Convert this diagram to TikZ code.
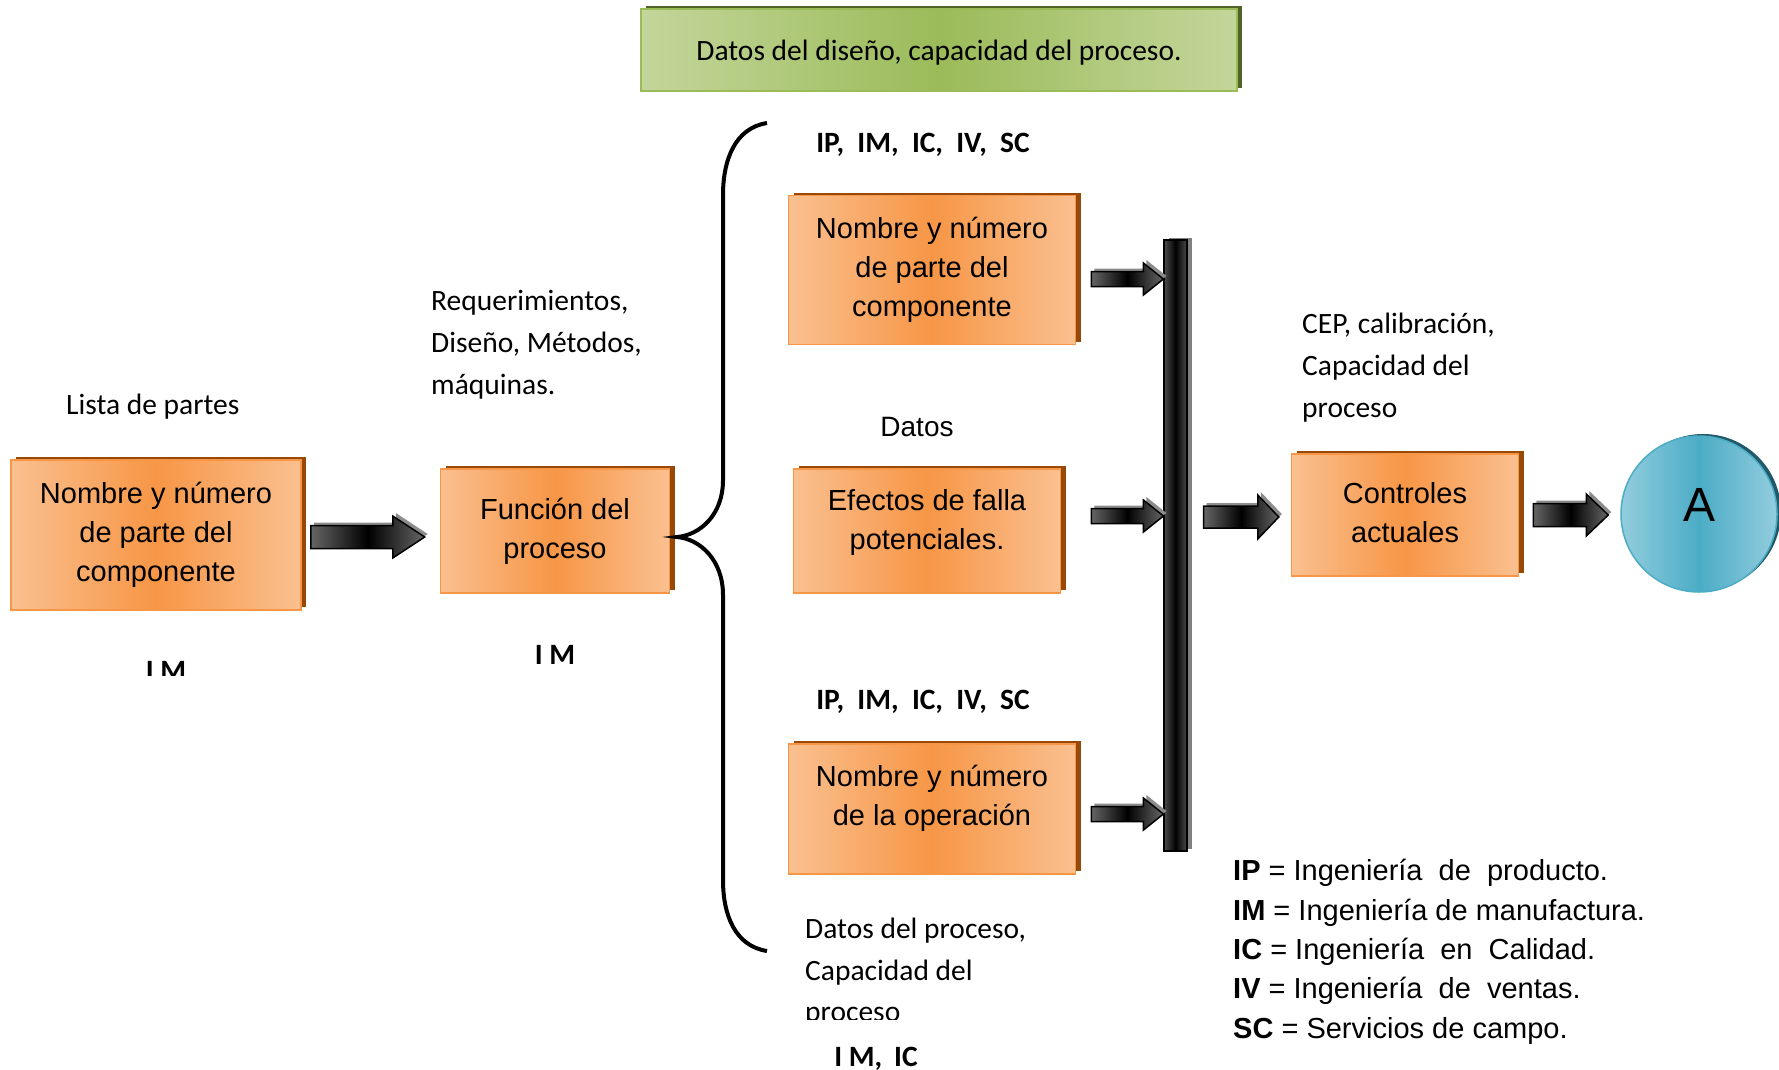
\documentclass[tikz,border=0pt]{standalone}
\usepackage{fontspec}
\setmainfont{Liberation Sans}
\newfontfamily\carlito{Carlito}
\usepackage{tikz}
\usetikzlibrary{shadows,calc}
\usepackage{xcolor}
\definecolor{naranja}{HTML}{F79646}
\definecolor{naranjaclaro}{HTML}{FAC090}
\definecolor{naranjasombra}{HTML}{984807}
\definecolor{verde}{HTML}{9BBB59}
\definecolor{verdeclaro}{HTML}{C3D69B}
\definecolor{verdesombra}{HTML}{4F6228}
\definecolor{azul}{HTML}{4BACC6}
\definecolor{azulclaro}{HTML}{93CDDD}
\definecolor{azulsombra}{HTML}{215968}

% flecha de bloque: desde, hasta, medio cuerpo, media punta, largo punta
\newcommand{\flecha}[5]{%
\path[fill=black!45, transform canvas={xshift=3pt,yshift=3pt}] let \p1=(#1), \p2=(#2) in
  (\x1,\y1+#3) -- (\x2-#5,\y1+#3) -- (\x2-#5,\y1+#4) -- (\x2,\y1)
  -- (\x2-#5,\y1-#4) -- (\x2-#5,\y1-#3) -- (\x1,\y1-#3) -- cycle;
\path[flecha] let \p1=(#1), \p2=(#2) in
  (\x1,\y1+#3) -- (\x2-#5,\y1+#3) -- (\x2-#5,\y1+#4) -- (\x2,\y1)
  -- (\x2-#5,\y1-#4) -- (\x2-#5,\y1-#3) -- (\x1,\y1-#3) -- cycle;}

\begin{document}
\begin{tikzpicture}[x=1pt,y=-1pt]
\tikzstyle{caja} = [rectangle, draw=naranja, line width=1.5pt, inner sep=0pt,
left color=naranjaclaro, right color=naranjaclaro, middle color=naranja,
align=center, font=\fontsize{29}{39}\selectfont,
drop shadow={shadow xshift=5pt, shadow yshift=3pt, opacity=1, fill=naranjasombra}]
\tikzstyle{cajaverde} = [rectangle, draw=verde, line width=1.5pt,
left color=verdeclaro, right color=verdeclaro, middle color=verde,
font=\carlito\fontsize{29.5}{34}\selectfont, text height=26pt,
drop shadow={shadow xshift=5pt, shadow yshift=3pt, opacity=1, fill=verdesombra}]
\tikzstyle{circulo} = [circle, draw=azul, line width=1.5pt, minimum size=156pt,
left color=azulclaro, right color=azulclaro, middle color=azul,
font=\fontsize{48}{48}\selectfont, text depth=18pt,
drop shadow={shadow xshift=4pt, shadow yshift=2pt, opacity=1, fill=azulsombra}]
\tikzstyle{bus} = [rectangle, draw=black, line width=1.2pt, inner sep=0pt,
minimum width=23pt, minimum height=611pt,
left color=black!70, right color=black!70, middle color=black,
drop shadow={shadow xshift=5pt, shadow yshift=2pt, opacity=1, fill=black!50}]
\tikzstyle{flecha} = [draw=black, line width=1.5pt,
left color=black!60, right color=black!60, middle color=black]
\tikzstyle{nota} = [inner sep=0pt, align=left, font=\carlito\fontsize{29.5}{42}\selectfont]
\tikzstyle{sigla} = [inner sep=0pt, font=\carlito\bfseries\fontsize{29.5}{34}\selectfont]

\useasboundingbox[fill=white] (0,0) rectangle (1779,1069);

% cajas
\node [cajaverde, minimum width=596pt, minimum height=82pt] (diseno) at (939,50)
  {Datos del diseño, capacidad del proceso.};
\node [caja, minimum width=290pt, minimum height=150pt] (comp) at (156,535)
  {Nombre y número\\de parte del\\componente};
\node [caja, minimum width=229pt, minimum height=124pt] (funcion) at (555,531)
  {Función del\\proceso};
\node [caja, minimum width=287pt, minimum height=149pt] (comp2) at (932,270)
  {Nombre y número\\de parte del\\componente};
\node [caja, minimum width=267pt, minimum height=124pt, text depth=24pt] (efectos) at (927,531)
  {Efectos de falla\\potenciales.};
\node [caja, minimum width=287pt, minimum height=130pt, text depth=28pt] (oper) at (932,809)
  {Nombre y número\\de la operación};
\node [caja, minimum width=227pt, minimum height=122pt, text depth=6pt] (controles) at (1405,515)
  {Controles\\actuales};
\node [circulo] (circA) at (1699,514) {A};
\node [bus] (barra) at (1175.5,545.5) {};

% textos
\node [nota, anchor=base west] (lista) at (66,414) {Lista de partes};
\node [nota, anchor=base west] (req) at (431,394)
  {Requerimientos,\\Diseño, Métodos,\\máquinas.};
\node [nota, anchor=base west] (cep) at (1302,417)
  {CEP, calibración,\\Capacidad del\\proceso};
\node [nota, anchor=base west] (datosproc) at (805,980)
  {Datos del proceso,\\Capacidad del};
\begin{scope}
\clip (0,0) rectangle (1779,1019);
\node [nota, anchor=base west] (proc) at (805,1021) {proceso};
\end{scope}
\begin{scope}
\clip (0,0) rectangle (1779,675);
\node [sigla, anchor=base] (im1) at (166,680) {I M};
\end{scope}
\node [sigla, anchor=base] (im2) at (555,664) {I M};
\node [sigla, anchor=base] (imic) at (876,1066) {I M,\hspace{0.4em}IC};
\node [sigla, anchor=base] (siglas1) at (923,152)
  {IP,\hspace{0.45em}IM,\hspace{0.45em}IC,\hspace{0.45em}IV,\hspace{0.45em}SC};
\node [sigla, anchor=base] (siglas2) at (923,709)
  {IP,\hspace{0.45em}IM,\hspace{0.45em}IC,\hspace{0.45em}IV,\hspace{0.45em}SC};
\node [inner sep=0pt, anchor=base, font=\fontsize{28}{34}\selectfont] (datos) at (917,436) {Datos};
\node [inner sep=0pt, anchor=base west, align=left, font=\fontsize{29}{39.3}\selectfont] (leyenda) at (1233,1038)
  {\textbf{IP} = Ingeniería\ \ de\ \ producto.\\
   \textbf{IM} = Ingeniería de manufactura.\\
   \textbf{IC} = Ingeniería\ \ en\ \ Calidad.\\
   \textbf{IV} = Ingeniería\ \ de\ \ ventas.\\
   \textbf{SC} = Servicios de campo.};

% llave
\draw [line width=4pt] (767,123) .. controls (735,128) and (723,160) .. (723,195)
  -- (723,480) .. controls (723,515) and (700,535) .. (677,537)
  .. controls (700,539) and (723,560) .. (723,595)
  -- (723,880) .. controls (723,915) and (735,946) .. (767,951);

% flechas
\coordinate (f1a) at ([xshift=9pt,yshift=-2pt]comp.east);
\coordinate (f1b) at ([xshift=-15pt]funcion.west);
\coordinate (f2a) at ([xshift=15pt,yshift=-9pt]comp2.east);
\coordinate (f3a) at ([xshift=30pt,yshift=15pt]efectos.east);
\coordinate (f4a) at ([xshift=15pt,yshift=-5pt]oper.east);
\coordinate (f5a) at ([xshift=16pt,yshift=-2pt]barra.east |- controles.west);
\coordinate (f5b) at ([xshift=-12pt]controles.west);
\coordinate (f6a) at ([xshift=14pt]controles.east);
\coordinate (f6b) at ([xshift=-12pt]circA.west);
\flecha{f1a}{f1b}{11.5pt}{21pt}{32pt}
\flecha{f2a}{barra.west}{7.5pt}{16pt}{20pt}
\flecha{f3a}{barra.west}{7.5pt}{16pt}{20pt}
\flecha{f4a}{barra.west}{7.5pt}{16pt}{20pt}
\flecha{f5a}{f5b}{11pt}{22pt}{21pt}
\flecha{f6a}{f6b}{11.5pt}{21pt}{22pt}
\end{tikzpicture}
\end{document}
